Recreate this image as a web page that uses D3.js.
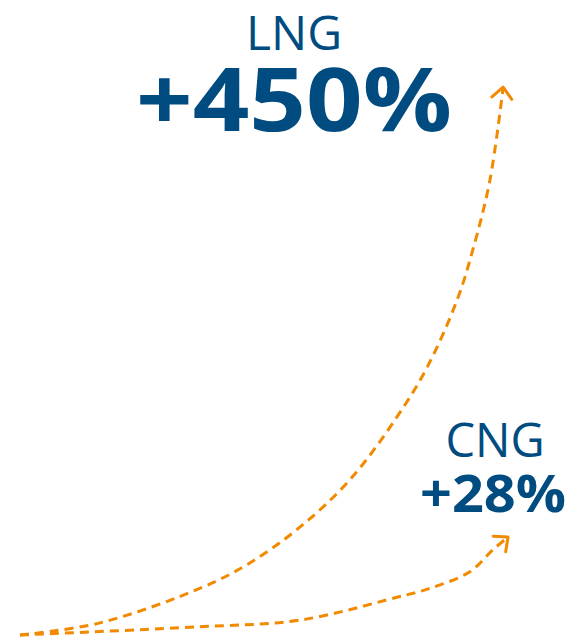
<!DOCTYPE html>
<html>
<head>
<meta charset="utf-8">
<script src="https://cdn.jsdelivr.net/npm/d3@7"></script>
<style>
  html, body { margin: 0; padding: 0; background: #fff; }
  svg { display: block; }
</style>
</head>
<body>
<figure id="growth" style="margin:0"></figure>
<script>
// growth paths, x = time (0..10), y = growth index (0..100)
const lngX = [0, 1.63, 3.73, 4.69, 5.71, 6.73, 7.69, 8.31, 8.92, 9.24, 9.59, 9.86];
const lngY = [0, 2.2, 8.7, 13.1, 19.6, 28.2, 39.6, 48.7, 60.9, 70.0, 82.7, 99.6];
const cngX = [0, 3.67, 5.71, 7.71, 8.37, 9.18, 9.65, 9.96];
const cngY = [0, 1.5, 2.7, 6.9, 8.5, 11.5, 15.5, 17.8];

const labels = ['LNG', 'CNG'];
const changes = ['+450%', '+28%'];

const width = 575;
const height = 640;
const orange = '#f18a00';
const blue = '#004b80';

const svg = d3.select('figure#growth')
    .append('svg')
    .attr('width', width)
    .attr('height', height);

const x = d3.scaleLinear().domain([0, 10]).range([20, 510]);
const y = d3.scaleLinear().domain([0, 100]).range([635, 85]);

// open chevron arrowhead
svg.append('defs').append('marker')
    .attr('id', 'arrow')
    .attr('markerUnits', 'userSpaceOnUse')
    .attr('viewBox', '-14 -12 16 24')
    .attr('refX', 0)
    .attr('refY', 0)
    .attr('markerWidth', 16)
    .attr('markerHeight', 24)
    .attr('orient', 'auto')
    .append('path')
    .attr('d', 'M-11,-10L0,0L-11,10')
    .attr('fill', 'none')
    .attr('stroke', orange)
    .attr('stroke-width', 3)
    .attr('stroke-linecap', 'round')
    .attr('stroke-linejoin', 'round');

const line = d3.line()
    .x(d => x(d[0]))
    .y(d => y(d[1]))
    .curve(d3.curveCatmullRom.alpha(0.5));

const series = [d3.zip(lngX, lngY), d3.zip(cngX, cngY)];

svg.selectAll('path.growth')
    .data(series)
    .enter()
    .append('path')
    .attr('class', 'growth')
    .attr('d', line)
    .attr('fill', 'none')
    .attr('stroke', orange)
    .attr('stroke-width', 3)
    .attr('stroke-dasharray', '9,6')
    .attr('marker-end', 'url(#arrow)');

// labels
const font = '"Open Sans", sans-serif';

svg.append('text')
    .attr('x', 294).attr('y', 50)
    .attr('text-anchor', 'middle')
    .style('font-family', font).style('font-size', '48px')
    .attr('fill', blue)
    .text(labels[0]);

svg.append('text')
    .attr('x', 294).attr('y', 131)
    .attr('text-anchor', 'middle')
    .style('font-family', font).style('font-size', '88px').style('font-weight', 700)
    .attr('textLength', 316).attr('lengthAdjust', 'spacingAndGlyphs')
    .attr('fill', blue)
    .text(changes[0]);

svg.append('text')
    .attr('x', 495).attr('y', 457)
    .attr('text-anchor', 'middle')
    .style('font-family', font).style('font-size', '47px')
    .attr('fill', blue)
    .text(labels[1]);

svg.append('text')
    .attr('x', 493).attr('y', 512)
    .attr('text-anchor', 'middle')
    .style('font-family', font).style('font-size', '52px').style('font-weight', 700)
    .attr('textLength', 146).attr('lengthAdjust', 'spacingAndGlyphs')
    .attr('fill', blue)
    .text(changes[1]);
</script>
</body>
</html>
